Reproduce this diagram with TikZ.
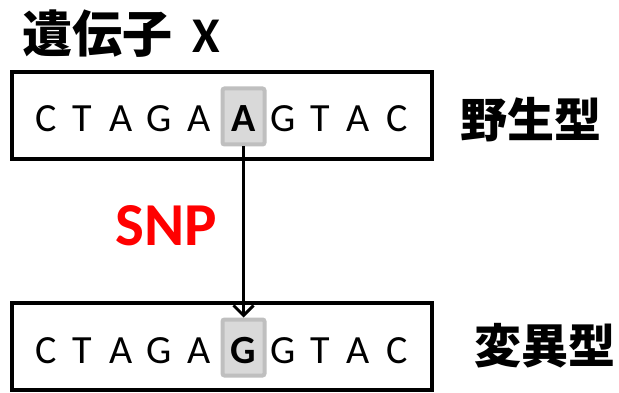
\documentclass[tikz,border=0pt]{standalone}
\usepackage{fontspec}
\setmainfont{Carlito}
\newfontfamily\cjk{Noto Sans CJK JP}
\usetikzlibrary{arrows.meta}
\definecolor{hlfill}{HTML}{D9D9D9}
\definecolor{hlline}{HTML}{BFBFBF}
\definecolor{snpred}{HTML}{FF0000}
\tikzset{
  seqbox/.style={draw=black, line width=4pt, minimum width=420pt, minimum height=87pt, inner sep=0pt},
  hlbox/.style={draw=hlline, fill=hlfill, line width=4pt, rounded corners=2pt, minimum width=42pt, minimum height=56pt, inner sep=0pt},
  base/.style={anchor=base, inner sep=0pt, font=\fontsize{40pt}{40pt}\selectfont},
  basebold/.style={base, font=\fontsize{40pt}{40pt}\selectfont\bfseries},
  cjklabel/.style={font=\fontsize{47pt}{47pt}\selectfont\cjk\bfseries, inner sep=0pt},
  mutarrow/.style={line width=3pt, -{Straight Barb[length=10pt,width=20pt,line width=3pt]}}
}
\begin{document}
\begin{tikzpicture}[x=1pt,y=-1pt]
\useasboundingbox (0,0) rectangle (619,393);

% title
\node[anchor=base west, inner sep=0pt, font=\fontsize{50pt}{50pt}\selectfont\bfseries] (title) at (22,53)
  {{\cjk 遺伝子}\hspace{20pt}X};

% sequence frames
\node[seqbox] (wild) at (222,115.5) {};
\node[seqbox] (mut) at (222,346.5) {};

% highlighted bases
\node[hlbox] (hA) at (243.5,116.5) {};
\node[hlbox] (hG) at (243.5,347.5) {};

% wild-type sequence
\foreach \ch/\xx [count=\i] in {C/46,T/82,A/121,G/159,A/199,G/283,T/320,A/358,C/397}
  \node[base] (w\i) at (\xx,132) {\ch};
\node[basebold] (wA) at (243.5,132) {A};

% variant sequence
\foreach \ch/\xx [count=\i] in {C/46,T/82,A/121,G/159,A/199,G/283,T/320,A/358,C/397}
  \node[base] (m\i) at (\xx,363) {\ch};
\node[basebold] (mG) at (243.5,363) {G};

% labels
\node[cjklabel] (wlab) at (531,120) {野生型};
\node[cjklabel] (mlab) at (545,346) {変異型};
\node[font=\fontsize{61pt}{61pt}\selectfont\bfseries, text=snpred, inner sep=0pt] (snp) at (166,226) {SNP};

% substitution arrow
\draw[mutarrow] (hA.south) -- (hG.north);
\end{tikzpicture}
\end{document}
